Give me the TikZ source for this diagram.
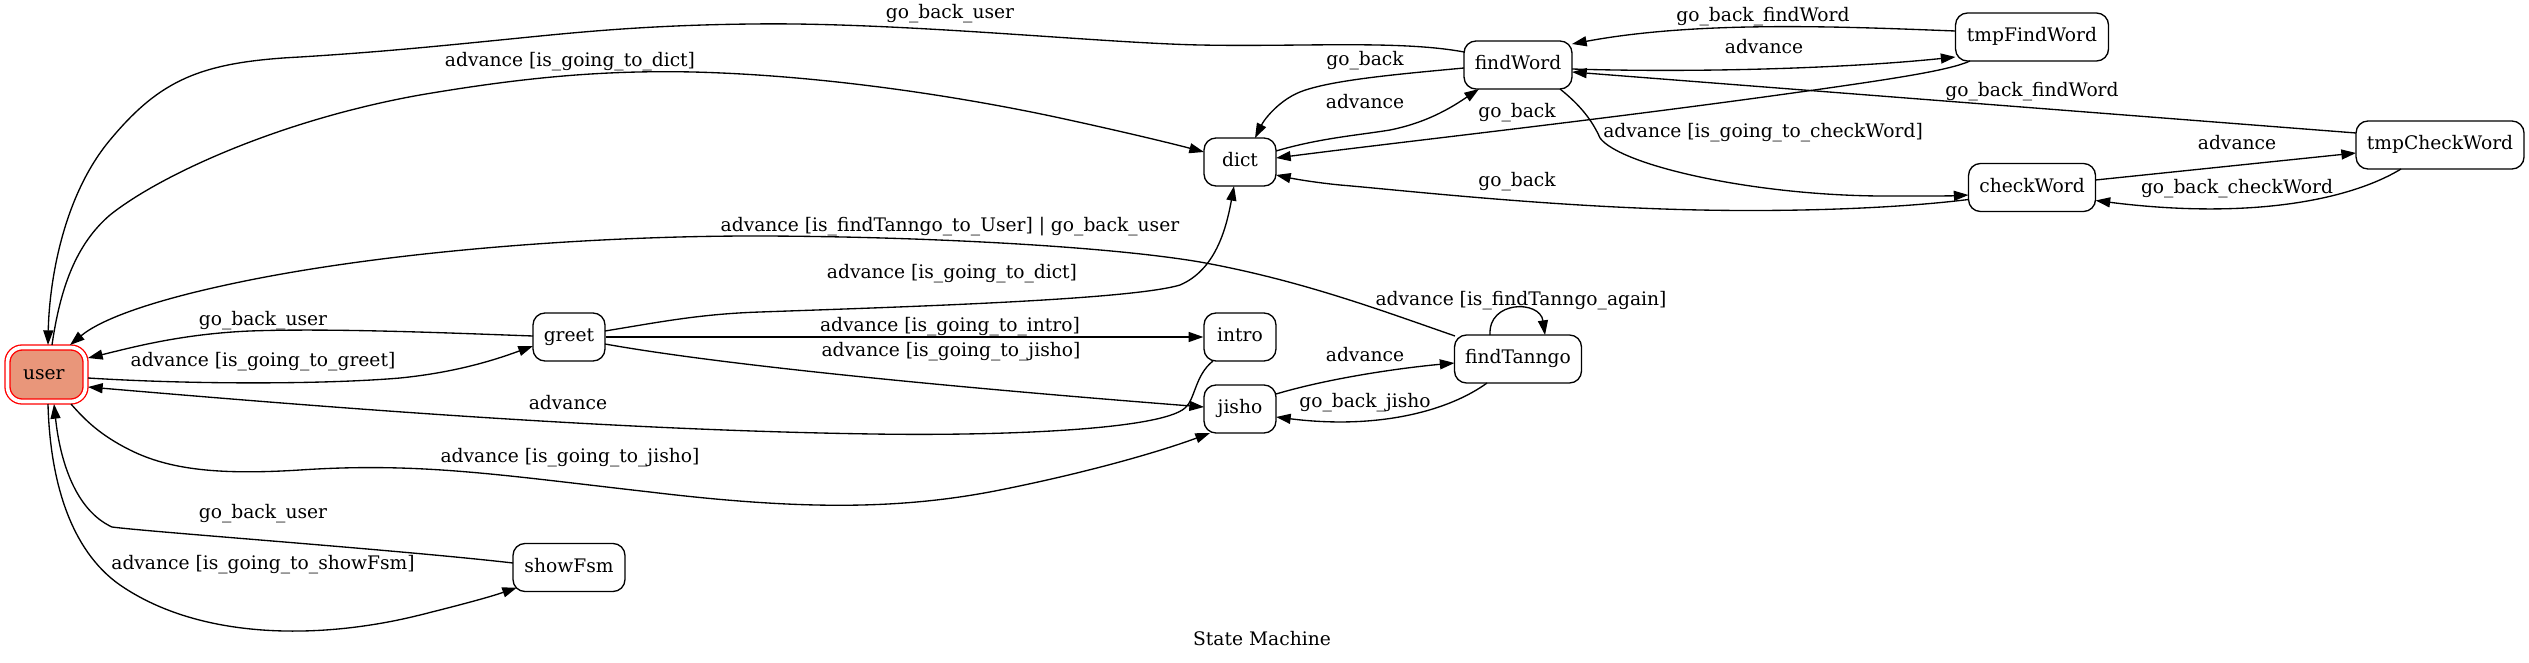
\documentclass[tikz,border=0pt]{standalone}
\usepackage{fontspec}
\setmainfont{DejaVu Serif}
\usetikzlibrary{arrows.meta,calc}
\definecolor{usercol}{RGB}{233,150,122}
\begin{document}
\begin{tikzpicture}[x=0.75pt,y=-0.75pt,
  txt/.style={font=\fontsize{14pt}{16pt}\selectfont, text height=10pt, text depth=3pt},
  state/.style={txt, draw=black, line width=1pt, rounded corners=9pt, minimum height=36pt, inner sep=0pt},
  edge/.style={line width=1pt, -{Triangle[length=11pt,width=7.5pt]}},
  lbl/.style={txt, inner sep=0pt}]
\useasboundingbox (0,0) rectangle (2529,663);
% nodes
\node[state, minimum width=58.5pt, minimum height=40.5pt, draw=red, fill=usercol, double=white, double distance=2.75pt, rounded corners=11pt] (user) at (46.5,374.5) {user\kern4pt};
\node[state, minimum width=54pt] (greet) at (569,337) {greet};
\node[state, minimum width=84pt] (showFsm) at (569,567.5) {showFsm};
\node[state, minimum width=54pt] (intro) at (1240,337) {intro};
\node[state, minimum width=54pt] (jisho) at (1240,409) {jisho};
\node[state, minimum width=95.25pt] (findTanngo) at (1518,359) {findTanngo};
\node[state, minimum width=54pt] (dict) at (1240,162) {dict};
\node[state, minimum width=81pt] (findWord) at (1518,65) {findWord};
\node[state, minimum width=114.75pt] (tmpFindWord) at (2032,37) {tmpFindWord};
\node[state, minimum width=95.25pt] (checkWord) at (2032,187.5) {checkWord};
\node[state, minimum width=126pt] (tmpCheckWord) at (2440,145) {tmpCheckWord};
% edges
\draw[edge] ($(findWord)+(-54,-13)$) .. controls (1400,40) and (1300,47) .. (1200,45) .. controls (1100,43) and (900,22) .. (753,24) .. controls (650,25) and (580,32) .. (520,38) .. controls (430,47) and (380,52) .. (300,57) .. controls (200,62) and (160,80) .. (110,140) .. controls (60,200) and (49,290) .. ($(user)+(1.5,-29.5)$);
\node[lbl] (l1) at (950,14) {go\_back\_user};

\draw[edge] ($(user)+(5.5,-29.5)$) .. controls (60,290) and (75,245) .. (110,215) .. controls (160,175) and (280,120) .. (420,95) .. controls (520,78) and (600,70) .. (693,72) .. controls (850,76) and (1000,105) .. (1060,118) .. controls (1120,131) and (1170,143) .. ($(dict)+(-36,-10)$);
\node[lbl] (l2) at (570,62) {advance [is\_going\_to\_dict]};

\draw[edge] ($(findTanngo)+(-63,-23)$) .. controls (1380,310) and (1300,280) .. (1200,262) .. controls (1100,245) and (900,236) .. (753,236) .. controls (600,236) and (400,250) .. (250,280) .. controls (150,300) and (100,320) .. ($(user)+(23.5,-29.5)$);
\node[lbl] (l3) at (950,227) {advance [is\_findTanngo\_to\_User] | go\_back\_user};

\draw[edge] ($(greet)+(36,-6)$) .. controls (660,322) and (700,314) .. (760,312) .. controls (900,307) and (1130,300) .. (1180,285) .. controls (1215,270) and (1226,230) .. ($(dict)+(-6,24)$);
\node[lbl] (l4) at (952,274) {advance [is\_going\_to\_dict]};

\draw[edge] ($(greet)+(-36,-1)$) .. controls (450,333) and (330,328) .. (250,331) .. controls (180,334) and (130,348) .. ($(user)+(41.5,-16.5)$);
\node[lbl] (l5) at (263,321) {go\_back\_user};

\draw[edge] ($(user)+(41.5,3.5)$) .. controls (200,385) and (330,384) .. (400,378) .. controls (460,372) and (500,358) .. ($(greet)+(-36,9)$);
\node[lbl] (l6) at (263,362) {advance [is\_going\_to\_greet]};

\draw[edge] (greet.east) -- (intro.west);
\node[lbl] (l7) at (950,327) {advance [is\_going\_to\_intro]};

\draw[edge] ($(greet)+(36,7)$) .. controls (750,370) and (1050,395) .. ($(jisho)+(-36,-2)$);
\node[lbl] (l8) at (951,352) {advance [is\_going\_to\_jisho]};

\draw[edge] ($(intro)+(-27,24)$) .. controls (1195,375) and (1195,400) .. (1185,408) .. controls (1160,430) and (1000,436) .. (873,434) .. controls (600,430) and (300,405) .. ($(user)+(41.5,12.5)$);
\node[lbl] (l9) at (568,405) {advance};

\draw[edge] ($(user)+(24.5,29.5)$) .. controls (85,420) and (100,435) .. (130,450) .. controls (170,470) and (220,475) .. (300,470) .. controls (420,462) and (500,475) .. (650,492) .. controls (800,510) and (900,510) .. (1000,490) .. controls (1100,470) and (1170,448) .. ($(jisho)+(-30,24)$);
\node[lbl] (l10) at (570,458) {advance [is\_going\_to\_jisho]};

\draw[edge] ($(showFsm)+(-56,-4.5)$) .. controls (400,550) and (150,532) .. (112,527) .. controls (75,510) and (60,460) .. ($(user)+(7.5,29.5)$);
\node[lbl] (l11) at (263,514) {go\_back\_user};

\draw[edge] ($(user)+(1.5,29.5)$) .. controls (50,480) and (70,550) .. (120,585) .. controls (200,640) and (320,640) .. (420,615) .. controls (460,605) and (490,597) .. ($(showFsm)+(-52,20)$);
\node[lbl] (l12) at (263,565) {advance [is\_going\_to\_showFsm]};

\draw[edge] ($(findWord)+(-54,3)$) .. controls (1400,74) and (1330,80) .. (1300,92) .. controls (1280,100) and (1265,118) .. ($(dict)+(15,-24)$);
\node[lbl] (l13) at (1365,61) {go\_back};

\draw[edge] ($(dict)+(36,-11)$) .. controls (1320,138) and (1360,135) .. (1390,130) .. controls (1430,122) and (1455,105) .. ($(findWord)+(-39,24)$);
\node[lbl] (l14) at (1365,104) {advance};

\draw[edge] ($(tmpFindWord)+(-62,24)$) .. controls (1950,70) and (1900,78) .. (1800,92) .. controls (1600,120) and (1400,142) .. ($(dict)+(36,-4)$);
\node[lbl] (l15) at (1517,113) {go\_back};

\draw[edge] ($(checkWord)+(-63.5,12)$) .. controls (1900,208) and (1800,212) .. (1700,210) .. controls (1550,207) and (1400,190) .. (1340,185) .. controls (1310,182) and (1290,178) .. ($(dict)+(36,13)$);
\node[lbl] (l16) at (1517,182) {go\_back};

\draw[edge] ($(findWord)+(42,24)$) .. controls (1580,105) and (1592,120) .. (1600,138) .. controls (1620,165) and (1750,195) .. (1880,196) .. controls (1920,196) and (1950,196) .. ($(checkWord)+(-63.5,7.5)$);
\node[lbl] (l17) at (1763,133) {advance [is\_going\_to\_checkWord]};

\draw[edge] ($(findWord)+(54,4)$) .. controls (1700,73) and (1850,68) .. ($(tmpFindWord)+(-76.5,20)$);
\node[lbl] (l18) at (1764,49) {advance};

\draw[edge] ($(tmpFindWord)+(-76.5,-6)$) .. controls (1850,27) and (1700,20) .. ($(findWord)+(54,-21)$);
\node[lbl] (l19) at (1763,17) {go\_back\_findWord};

\draw[edge] ($(tmpCheckWord)+(-84,-12)$) -- ($(findWord)+(54,7)$);
\node[lbl] (l20) at (2032,92) {go\_back\_findWord};

\draw[edge] ($(checkWord)+(63.5,-7.5)$) -- ($(tmpCheckWord)+(-84,8)$);
\node[lbl] (l21) at (2237,145) {advance};

\draw[edge] ($(tmpCheckWord)+(-39,24)$) .. controls (2350,200) and (2250,220) .. ($(checkWord)+(63.5,13)$);
\node[lbl] (l22) at (2237,189) {go\_back\_checkWord};

\draw[edge] ($(jisho)+(36,-15)$) .. controls (1330,378) and (1400,368) .. ($(findTanngo)+(-63.5,4)$);
\node[lbl] (l23) at (1365,357) {advance};

\draw[edge] ($(findTanngo)+(-31,24)$) .. controls (1450,410) and (1380,430) .. ($(jisho)+(36,8)$);
\node[lbl] (l24) at (1365,403) {go\_back\_jisho};

\draw[edge] ($(findTanngo)+(-28,-24)$) .. controls (1488,300) and (1540,300) .. ($(findTanngo)+(27,-24)$);
\node[lbl] (l25) at (1521,301) {advance [is\_findTanngo\_again]};

\node[lbl] (title) at (1262,641) {State Machine};
\end{tikzpicture}
\end{document}
